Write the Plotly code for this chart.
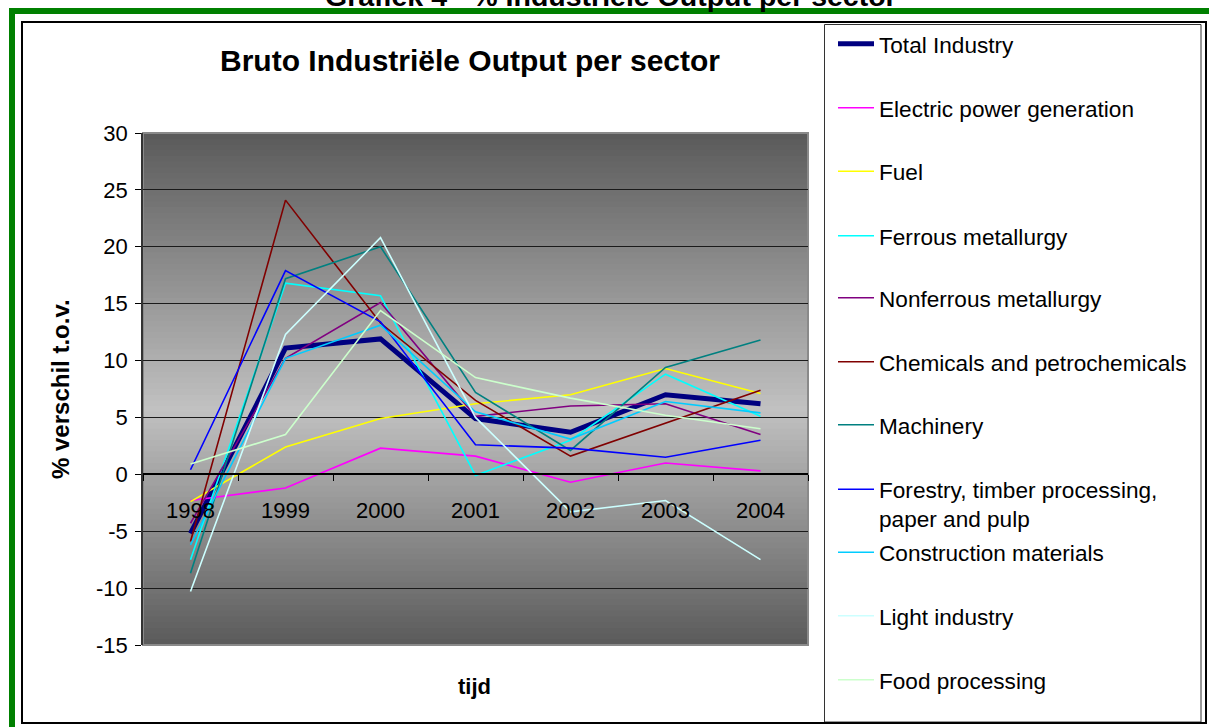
import plotly.graph_objects as go

# data (% change vs previous year)
years = ["1998", "1999", "2000", "2001", "2002", "2003", "2004"]

total_industry = [-5.2, 11.1, 11.9, 4.9, 3.7, 7.0, 6.2]
electric_power = [-2.3, -1.2, 2.3, 1.6, -0.7, 1.0, 0.3]
fuel = [-2.4, 2.4, 4.9, 6.2, 7.0, 9.3, 7.1]
ferrous_metallurgy = [-7.5, 16.8, 15.7, -0.1, 3.0, 8.8, 5.1]
nonferrous_metallurgy = [-4.3, 10.2, 15.1, 5.1, 6.0, 6.2, 3.5]
chemicals = [-5.9, 24.1, 13.3, 6.5, 1.6, 4.5, 7.4]
machinery = [-8.7, 17.2, 20.0, 7.2, 2.1, 9.4, 11.8]
forestry = [0.4, 17.9, 13.4, 2.6, 2.3, 1.5, 3.0]
construction = [-6.2, 10.2, 13.1, 5.5, 3.1, 6.4, 5.4]
light_industry = [-10.3, 12.3, 20.8, 5.0, -3.3, -2.3, -7.5]
food_processing = [0.9, 3.5, 14.4, 8.5, 6.7, 5.2, 4.0]

series_names = [
    "Total Industry",
    "Electric power generation",
    "Fuel",
    "Ferrous metallurgy",
    "Nonferrous metallurgy",
    "Chemicals and petrochemicals",
    "Machinery",
    "Forestry, timber processing,<br>paper and pulp",
    "Construction materials",
    "Light industry",
    "Food processing",
]
series_values = [
    total_industry, electric_power, fuel, ferrous_metallurgy, nonferrous_metallurgy,
    chemicals, machinery, forestry, construction, light_industry, food_processing,
]
series_colors = [
    "#000080", "#FF00FF", "#FFFF00", "#00FFFF", "#800080",
    "#800000", "#008080", "#0000FF", "#00CCFF", "#CCFFFF", "#CCFFCC",
]

y_ticks = list(range(-15, 31, 5))
Y_MIN, Y_MAX = y_ticks[0], y_ticks[-1]

W, H = 1209, 727
M_L, M_R, M_T, M_B = 143, 401, 133, 82
FONT = "Liberation Sans, Arial, sans-serif"


def xp(px):
    # pixel -> paper x
    return (px - M_L) / (W - M_L - M_R)


def yp(py):
    # pixel -> paper y
    return (H - M_B - py) / (H - M_T - M_B)


fig = go.Figure()

# legend item centres (pixel y) - Excel legend spacing
legend_centres = [44, 108, 171.5, 236, 298, 362, 425, 504, 552.5, 616, 680]

legends = {}
for i, (name, vals, col) in enumerate(zip(series_names, series_values, series_colors)):
    key = "legend" if i == 0 else f"legend{i + 1}"
    fig.add_trace(
        go.Scatter(
            x=years,
            y=vals,
            mode="lines",
            name=name,
            line=dict(color=col, width=5 if i == 0 else 1.6),
            legend=key,
        )
    )
    legends[key] = dict(
        x=xp(833),
        y=yp(legend_centres[i]),
        xanchor="left",
        yanchor="middle",
        bgcolor="rgba(0,0,0,0)",
        borderwidth=0,
        itemwidth=36,
        font=dict(family=FONT, size=22.6, color="black"),
        valign="top",
    )

# gradient background of the plot area (dark edges, light centre)
shapes = []
n_bands = 90
centre = 0.46
for i in range(n_bands):
    t0, t1 = i / n_bands, (i + 1) / n_bands
    mid = (t0 + t1) / 2
    f = mid / centre if mid < centre else (1 - mid) / (1 - centre)
    g = int(round(90 + (193 - 90) * f))
    shapes.append(dict(
        type="rect", xref="x domain", yref="y domain",
        x0=0, x1=1, y0=t0, y1=t1 + 0.002,
        fillcolor=f"rgb({g},{g},{g})", line=dict(width=0), layer="below",
    ))
# plot area border
shapes.append(dict(type="rect", xref="x domain", yref="y domain", x0=0, x1=1, y0=0, y1=1,
                   line=dict(color="#8a8a8a", width=2), layer="below"))
# legend box
shapes.append(dict(type="rect", xref="paper", yref="paper",
                   x0=xp(824.5), x1=xp(1201), y0=yp(722), y1=yp(24.5),
                   line=dict(color="#333333", width=1)))
# chart border
shapes.append(dict(type="rect", xref="paper", yref="paper",
                   x0=xp(22), x1=xp(1206), y0=yp(723), y1=yp(22),
                   line=dict(color="black", width=2)))
# green frame (left and top)
shapes.append(dict(type="rect", xref="paper", yref="paper",
                   x0=xp(9), x1=xp(15), y0=yp(735), y1=yp(8),
                   fillcolor="#008000", line=dict(width=0)))
shapes.append(dict(type="rect", xref="paper", yref="paper",
                   x0=xp(9), x1=xp(1215), y0=yp(14), y1=yp(8),
                   fillcolor="#008000", line=dict(width=0)))

fig.update_layout(
    width=W,
    height=H,
    margin=dict(l=M_L, r=M_R, t=M_T, b=M_B, autoexpand=False),
    paper_bgcolor="white",
    plot_bgcolor="rgba(0,0,0,0)",
    font=dict(family=FONT, size=22, color="black"),
    shapes=shapes,
    showlegend=True,
    **legends,
    annotations=[
        dict(text="<b>Bruto Industriële Output per sector</b>", xref="paper", yref="paper",
             x=xp(470), y=yp(60), xanchor="center", yanchor="middle",
             showarrow=False, font=dict(size=30)),
        dict(text="<b>tijd</b>", xref="paper", yref="paper",
             x=xp(474), y=yp(686), xanchor="center", yanchor="middle",
             showarrow=False, font=dict(size=22)),
        dict(text="<b>% verschil t.o.v.</b>", xref="paper", yref="paper", textangle=-90,
             x=xp(60), y=yp(389), xanchor="center", yanchor="middle",
             showarrow=False, font=dict(size=24)),
        # the sheet caption above the chart is cropped at the top edge in the original
        dict(text="<b>Grafiek 4 - % Industriële Output per sector</b>", xref="paper",
             yref="paper", x=xp(611), y=yp(-4), xanchor="center", yanchor="middle",
             showarrow=False, font=dict(size=28.5)),
    ],
)

fig.update_xaxes(
    type="category",
    categoryorder="array",
    categoryarray=years,
    range=[-0.5, len(years) - 0.5],
    anchor="free",
    position=(0 - Y_MIN) / (Y_MAX - Y_MIN),
    showline=True,
    linecolor="black",
    linewidth=1.5,
    ticks="outside",
    ticklen=6,
    tickcolor="black",
    tickson="boundaries",
    ticklabelstandoff=17,
    showgrid=False,
    zeroline=False,
    tickfont=dict(size=22),
)
fig.update_yaxes(
    range=[Y_MIN, Y_MAX],
    tickvals=y_ticks,
    ticktext=[str(v) for v in y_ticks],
    showline=True,
    linecolor="#333333",
    linewidth=1.5,
    ticks="outside",
    ticklen=6,
    tickcolor="black",
    ticklabelstandoff=3,
    showgrid=True,
    gridcolor="#1a1a1a",
    gridwidth=1,
    zeroline=False,
    tickfont=dict(size=22),
)

# drop the default page margin so the figure sits at the window origin
fig.write_html(
    "out.html",
    config={"displayModeBar": False},
    post_script="document.body.style.margin='0px';",
)
